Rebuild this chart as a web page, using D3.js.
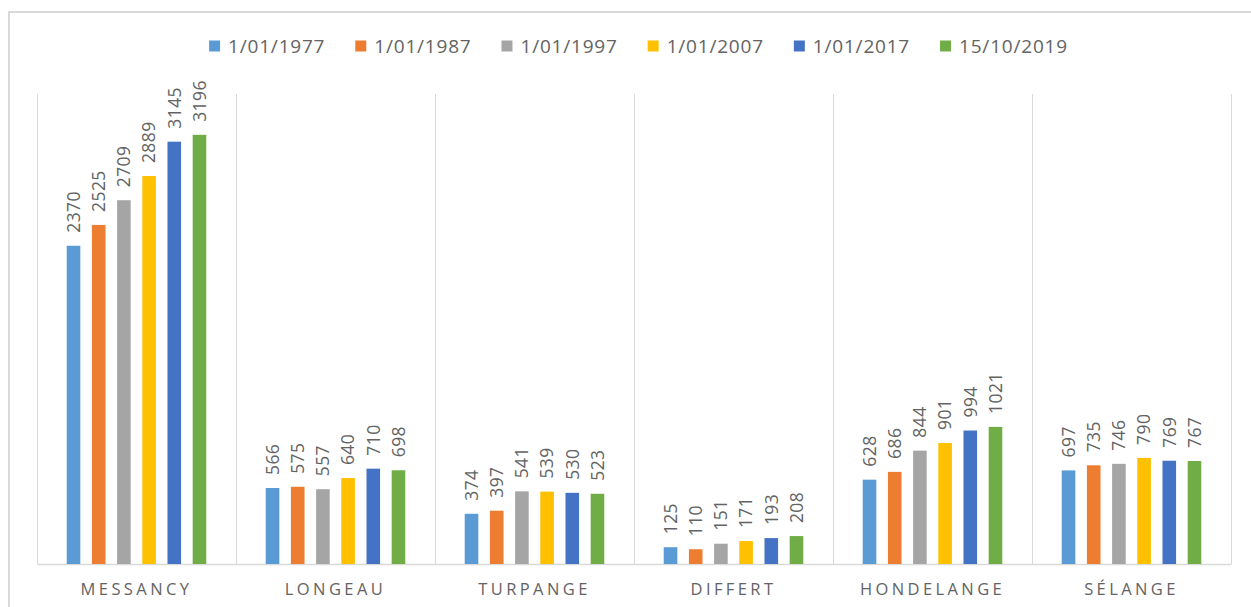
<!DOCTYPE html>
<html>
<head>
<meta charset="utf-8">
<script src="https://cdn.jsdelivr.net/npm/d3@7/dist/d3.min.js"></script>
<style>
  html, body { margin: 0; padding: 0; background: #fff; }
  svg { display: block; }
</style>
</head>
<body>
<svg id="chart" width="1251" height="607"></svg>
<script>
// Population per commune at six census dates
const communes = ["MESSANCY", "LONGEAU", "TURPANGE", "DIFFERT", "HONDELANGE", "SÉLANGE"];
const dates = ["1/01/1977", "1/01/1987", "1/01/1997", "1/01/2007", "1/01/2017", "15/10/2019"];
const colors = ["#5B9BD5", "#ED7D31", "#A5A5A5", "#FFC000", "#4472C4", "#70AD47"];

const pop1977 = [2370, 566, 374, 125, 628, 697];
const pop1987 = [2525, 575, 397, 110, 686, 735];
const pop1997 = [2709, 557, 541, 151, 844, 746];
const pop2007 = [2889, 640, 539, 171, 901, 790];
const pop2017 = [3145, 710, 530, 193, 994, 769];
const pop2019 = [3196, 698, 523, 208, 1021, 767];
const series = [pop1977, pop1987, pop1997, pop2007, pop2017, pop2019];

const yMax = 3500;

const svg = d3.select("#chart");
const textColor = "#636363";
const gridColor = "#d9d9d9";
const font = "'Open Sans', 'Noto Sans', sans-serif";

// chart frame
svg.append("rect")
  .attr("x", 9).attr("y", 12)
  .attr("width", 1300).attr("height", 700)
  .attr("fill", "#fff")
  .attr("stroke", gridColor).attr("stroke-width", 2);

const plot = { left: 37, right: 1231, top: 94, bottom: 564 };

const x0 = d3.scaleBand().domain(communes).range([plot.left, plot.right]).padding(0);
const x1 = d3.scaleBand().domain(dates).range([0, x0.bandwidth()]).paddingInner(0.46).paddingOuter(1.18);
const y = d3.scaleLinear().domain([0, yMax]).range([plot.bottom, plot.top]);

// vertical category separators
const seps = communes.map(c => x0(c)).concat([plot.right]);
svg.append("g").selectAll("line").data(seps).join("line")
  .attr("x1", d => d + 0.5).attr("x2", d => d + 0.5)
  .attr("y1", plot.top).attr("y2", plot.bottom)
  .attr("stroke", gridColor).attr("stroke-width", 1);

// category axis
const xAxis = svg.append("g")
  .attr("transform", `translate(0,${plot.bottom})`)
  .call(d3.axisBottom(x0).tickSize(0).tickPadding(19));
xAxis.select(".domain").attr("stroke", gridColor).attr("stroke-width", 1.5);
xAxis.selectAll("text")
  .attr("fill", textColor)
  .style("font-family", font)
  .style("font-size", "16.5px")
  .style("letter-spacing", "3.4px");

// bars
const groups = svg.append("g").selectAll("g").data(communes).join("g")
  .attr("transform", c => `translate(${x0(c)},0)`);

groups.selectAll("rect")
  .data((c, i) => dates.map((d, k) => ({ date: d, value: series[k][i], color: colors[k] })))
  .join("rect")
  .attr("x", d => x1(d.date))
  .attr("width", x1.bandwidth())
  .attr("y", d => y(d.value))
  .attr("height", d => y(0) - y(d.value))
  .attr("fill", d => d.color);

// rotated value labels
groups.selectAll("text.val")
  .data((c, i) => dates.map((d, k) => ({ date: d, value: series[k][i] })))
  .join("text")
  .attr("class", "val")
  .attr("transform", d => `translate(${x1(d.date) + x1.bandwidth() / 2},${y(d.value) - 13}) rotate(-90)`)
  .attr("dy", "0.36em")
  .attr("text-anchor", "start")
  .attr("fill", textColor)
  .style("font-family", font)
  .style("font-size", "17.5px")
  .style("letter-spacing", "0.4px")
  .text(d => d.value);

// legend
const legend = svg.append("g");
const items = legend.selectAll("g").data(dates).join("g");
items.append("rect")
  .attr("width", 11).attr("height", 11)
  .attr("y", -5.5)
  .attr("fill", (d, i) => colors[i]);
items.append("text")
  .attr("x", 19)
  .attr("dy", "0.36em")
  .attr("fill", textColor)
  .style("font-family", font)
  .style("font-size", "19px")
  .style("letter-spacing", "0.8px")
  .text(d => d);

const legendGap = 30;
let cursor = 0;
items.each(function () {
  const g = d3.select(this);
  g.attr("transform", `translate(${cursor},0)`);
  const w = g.select("text").node().getComputedTextLength();
  cursor += 19 + w + legendGap;
});
const legendWidth = cursor - legendGap;
legend.attr("transform", `translate(${638.5 - legendWidth / 2},46)`);
</script>
</body>
</html>
